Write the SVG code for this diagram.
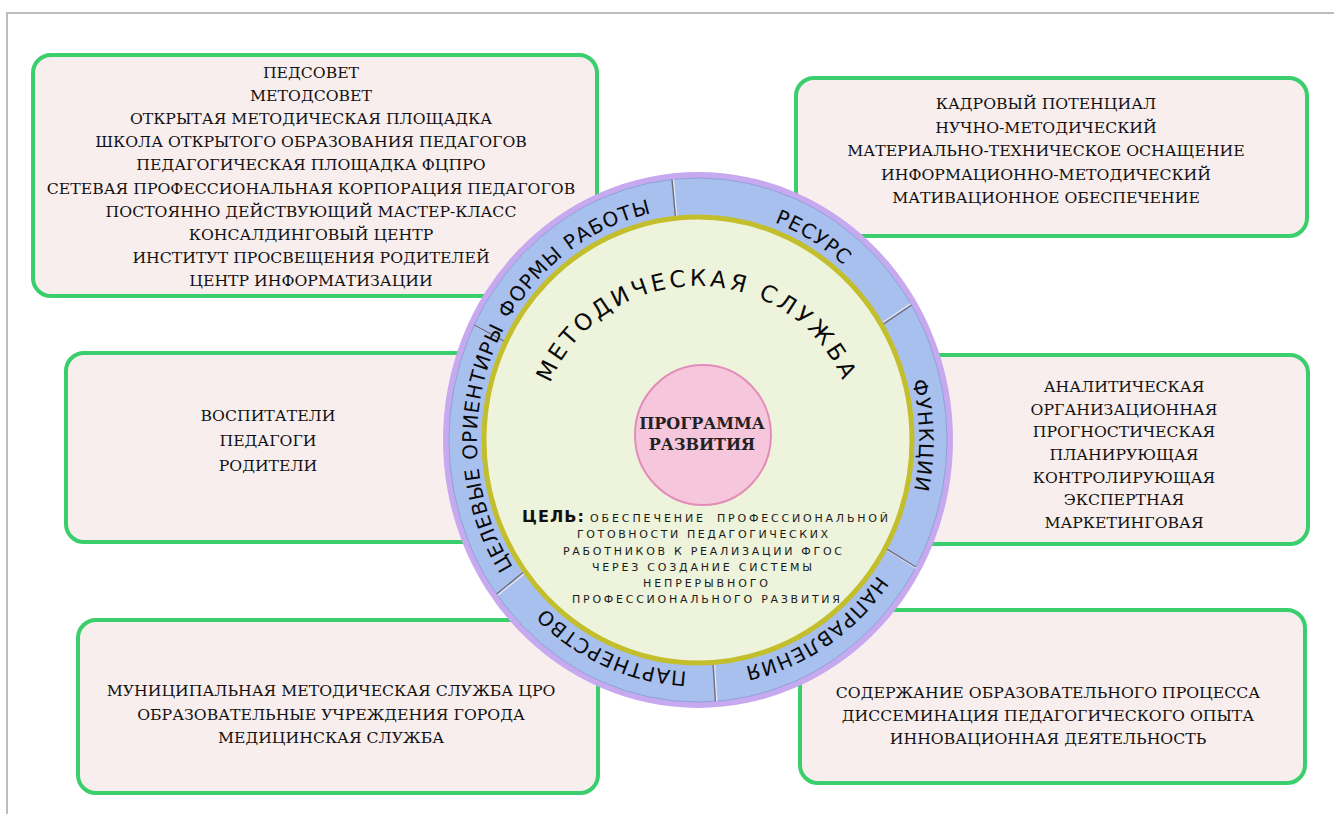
<svg xmlns="http://www.w3.org/2000/svg" width="1334" height="814" viewBox="0 0 1334 814">
<defs>
<style>
.box{fill:#F9EEEE;stroke:#3ACF6C;stroke-width:4}
.bt{font-family:"DejaVu Serif","Liberation Serif",serif;font-size:15.7px;fill:#111;text-anchor:middle}
.ring{font-family:"DejaVu Sans",Verdana,sans-serif;font-size:20px;fill:#0a0a0a;letter-spacing:1px}
.goal{font-family:"DejaVu Sans",Verdana,sans-serif;font-size:11px;fill:#1a1a1a}
.div1{stroke:#6f6f80;stroke-width:1.4}
.div2{stroke:#e8e4f4;stroke-width:1.4}
</style>
<path id="ringPath" d="M 698,208 A 221,232 0 1 1 698,672 A 221,232 0 1 1 698,208"/>
<path id="titlePath" d="M 697,594 A 158,154 0 1 1 697,286 A 158,154 0 1 1 697,594"/>
</defs>
<rect width="1334" height="814" fill="#ffffff"/>
<path d="M 7,814 V 13 H 1334" fill="none" stroke="#BDBDBD" stroke-width="2"/>

<g id="box-forms">
<rect class="box" x="33" y="55" width="564" height="241" rx="18"/>
<text class="bt" x="311" y="78">ПЕДСОВЕТ</text>
<text class="bt" x="311" y="101">МЕТОДСОВЕТ</text>
<text class="bt" x="311" y="124">ОТКРЫТАЯ МЕТОДИЧЕСКАЯ ПЛОЩАДКА</text>
<text class="bt" x="311" y="147">ШКОЛА ОТКРЫТОГО ОБРАЗОВАНИЯ ПЕДАГОГОВ</text>
<text class="bt" x="311" y="170">ПЕДАГОГИЧЕСКАЯ ПЛОЩАДКА ФЦПРО</text>
<text class="bt" x="311" y="194">СЕТЕВАЯ ПРОФЕССИОНАЛЬНАЯ КОРПОРАЦИЯ ПЕДАГОГОВ</text>
<text class="bt" x="311" y="217">ПОСТОЯННО ДЕЙСТВУЮЩИЙ МАСТЕР-КЛАСС</text>
<text class="bt" x="311" y="240">КОНСАЛДИНГОВЫЙ ЦЕНТР</text>
<text class="bt" x="311" y="263">ИНСТИТУТ ПРОСВЕЩЕНИЯ РОДИТЕЛЕЙ</text>
<text class="bt" x="311" y="286">ЦЕНТР ИНФОРМАТИЗАЦИИ</text>
</g>

<g id="box-resources">
<rect class="box" x="796" y="78" width="511" height="158" rx="18"/>
<text class="bt" x="1046" y="109">КАДРОВЫЙ ПОТЕНЦИАЛ</text>
<text class="bt" x="1046" y="132.5">НУЧНО-МЕТОДИЧЕСКИЙ</text>
<text class="bt" x="1046" y="156">МАТЕРИАЛЬНО-ТЕХНИЧЕСКОЕ ОСНАЩЕНИЕ</text>
<text class="bt" x="1046" y="179.5">ИНФОРМАЦИОННО-МЕТОДИЧЕСКИЙ</text>
<text class="bt" x="1046" y="203">МАТИВАЦИОННОЕ ОБЕСПЕЧЕНИЕ</text>
</g>

<g id="box-targets">
<rect class="box" x="66" y="353" width="420" height="189" rx="18"/>
<text class="bt" x="268" y="421">ВОСПИТАТЕЛИ</text>
<text class="bt" x="268" y="446">ПЕДАГОГИ</text>
<text class="bt" x="268" y="471">РОДИТЕЛИ</text>
</g>

<g id="box-functions">
<rect class="box" x="900" y="355" width="408" height="189" rx="18"/>
<text class="bt" x="1124" y="392">АНАЛИТИЧЕСКАЯ</text>
<text class="bt" x="1124" y="414.7">ОРГАНИЗАЦИОННАЯ</text>
<text class="bt" x="1124" y="437.3">ПРОГНОСТИЧЕСКАЯ</text>
<text class="bt" x="1124" y="460">ПЛАНИРУЮЩАЯ</text>
<text class="bt" x="1124" y="482.7">КОНТРОЛИРУЮЩАЯ</text>
<text class="bt" x="1124" y="505.3">ЭКСПЕРТНАЯ</text>
<text class="bt" x="1124" y="528">МАРКЕТИНГОВАЯ</text>
</g>

<g id="box-partners">
<rect class="box" x="78" y="620" width="520" height="173" rx="18"/>
<text class="bt" x="331" y="696">МУНИЦИПАЛЬНАЯ МЕТОДИЧЕСКАЯ СЛУЖБА ЦРО</text>
<text class="bt" x="331" y="719.5">ОБРАЗОВАТЕЛЬНЫЕ УЧРЕЖДЕНИЯ ГОРОДА</text>
<text class="bt" x="331" y="743">МЕДИЦИНСКАЯ СЛУЖБА</text>
</g>

<g id="box-directions">
<rect class="box" x="800" y="610" width="505" height="173" rx="18"/>
<text class="bt" x="1048" y="698">СОДЕРЖАНИЕ ОБРАЗОВАТЕЛЬНОГО ПРОЦЕССА</text>
<text class="bt" x="1048" y="721">ДИССЕМИНАЦИЯ ПЕДАГОГИЧЕСКОГО ОПЫТА</text>
<text class="bt" x="1048" y="744">ИННОВАЦИОННАЯ ДЕЯТЕЛЬНОСТЬ</text>
</g>

<g id="ring">
<ellipse cx="698" cy="440" rx="255" ry="268" fill="#C6A9EE"/>
<ellipse cx="698" cy="440" rx="249" ry="262" fill="#A8C0EE" stroke="#8EA2DA" stroke-width="1"/>
</g>

<g id="connectors">
<line class="div2" x1="676.6" y1="216" x2="673.4" y2="179"/>
<line class="div1" x1="675.4" y1="216.2" x2="672" y2="179.4"/>
<line class="div2" x1="882.4" y1="322.8" x2="910.6" y2="303.8"/>
<line class="div1" x1="883.2" y1="324.1" x2="911.4" y2="305.1"/>
<line class="div2" x1="887.7" y1="550.4" x2="916.6" y2="568.3"/>
<line class="div1" x1="886.9" y1="549.1" x2="915.8" y2="567"/>
<line class="div2" x1="714.5" y1="664.5" x2="716.8" y2="701.4"/>
<line class="div1" x1="713.1" y1="664.5" x2="715.4" y2="701.4"/>
<line class="div2" x1="524.3" y1="573.6" x2="497.6" y2="595.3"/>
<line class="div1" x1="523.3" y1="572.3" x2="496.6" y2="594"/>
<line class="div2" x1="505" y1="342" x2="475" y2="325.6"/>
<line class="div1" x1="504.3" y1="341.4" x2="474.3" y2="325"/>
</g>

<g id="ring-labels">
<text class="ring" text-anchor="middle"><textPath href="#ringPath" startOffset="90.3%">ФОРМЫ РАБОТЫ</textPath></text>
<text class="ring" text-anchor="middle"><textPath href="#ringPath" startOffset="8.4%">РЕСУРС</textPath></text>
<text class="ring" text-anchor="middle"><textPath href="#ringPath" startOffset="24.7%">ФУНКЦИИ</textPath></text>
<text class="ring" text-anchor="middle"><textPath href="#ringPath" startOffset="40.9%">НАПРАВЛЕНИЯ</textPath></text>
<text class="ring" text-anchor="middle"><textPath href="#ringPath" startOffset="56.4%">ПАРТНЕРСТВО</textPath></text>
<text class="ring" text-anchor="middle"><textPath href="#ringPath" startOffset="74.4%">ЦЕЛЕВЫЕ ОРИЕНТИРЫ</textPath></text>
</g>

<g id="core">
<ellipse cx="698" cy="440" rx="214" ry="223" fill="#EEF3DB" stroke="#C3BE2C" stroke-width="5"/>
<text font-family="DejaVu Sans, Verdana, sans-serif" font-size="23" fill="#0a0a0a" letter-spacing="3.5" text-anchor="middle"><textPath href="#titlePath" startOffset="50%">МЕТОДИЧЕСКАЯ СЛУЖБА</textPath></text>
</g>

<g id="program">
<ellipse cx="703" cy="435" rx="68" ry="70" fill="#F6C6DD" stroke="#E28DB9" stroke-width="2"/>
<text x="702" y="429" font-family="DejaVu Serif, Liberation Serif, serif" font-size="16" font-weight="bold" fill="#222" text-anchor="middle">ПРОГРАММА</text>
<text x="702" y="450" font-family="DejaVu Serif, Liberation Serif, serif" font-size="16" font-weight="bold" fill="#222" text-anchor="middle">РАЗВИТИЯ</text>
</g>

<g id="goal">
<text x="522" y="522" font-family="DejaVu Sans, Verdana, sans-serif" font-size="16" font-weight="bold" fill="#111" textLength="62" lengthAdjust="spacing">ЦЕЛЬ:</text>
<text x="590" y="522" class="goal" textLength="113" lengthAdjust="spacing">ОБЕСПЕЧЕНИЕ</text>
<text x="717" y="522" class="goal" textLength="171" lengthAdjust="spacing">ПРОФЕССИОНАЛЬНОЙ</text>
<text x="577" y="538" class="goal" textLength="251" lengthAdjust="spacing">ГОТОВНОСТИ ПЕДАГОГИЧЕСКИХ</text>
<text x="563" y="555" class="goal" textLength="279" lengthAdjust="spacing">РАБОТНИКОВ К РЕАЛИЗАЦИИ ФГОС</text>
<text x="592" y="571" class="goal" textLength="220" lengthAdjust="spacing">ЧЕРЕЗ СОЗДАНИЕ СИСТЕМЫ</text>
<text x="643" y="587" class="goal" textLength="125" lengthAdjust="spacing">НЕПРЕРЫВНОГО</text>
<text x="572" y="603" class="goal" textLength="268" lengthAdjust="spacing">ПРОФЕССИОНАЛЬНОГО РАЗВИТИЯ</text>
</g>
</svg>
